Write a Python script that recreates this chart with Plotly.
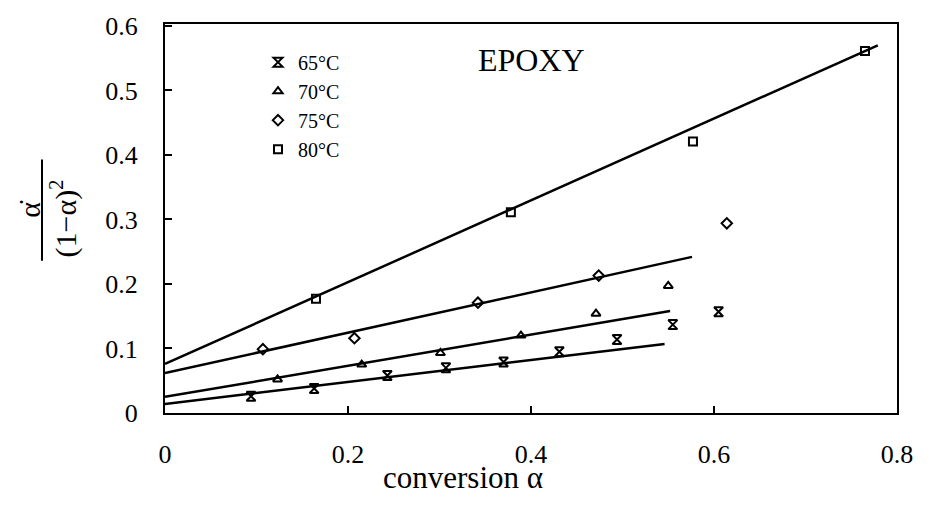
import plotly.graph_objects as go

# ---- data ----
temps = ["65°C", "70°C", "75°C", "80°C"]

x65 = [0.094, 0.163, 0.243, 0.307, 0.370, 0.431, 0.494, 0.555, 0.605]
y65 = [0.026, 0.038, 0.058, 0.070, 0.079, 0.095, 0.114, 0.137, 0.157]

x70 = [0.123, 0.215, 0.301, 0.389, 0.471, 0.550]
y70 = [0.052, 0.075, 0.093, 0.120, 0.154, 0.197]

x75 = [0.107, 0.207, 0.342, 0.474, 0.614]
y75 = [0.099, 0.116, 0.171, 0.213, 0.294]

x80 = [0.165, 0.378, 0.577, 0.765]
y80 = [0.177, 0.311, 0.421, 0.561]

# linear fit lines (start / end)
fit_x65 = [0.0, 0.546]
fit_y65 = [0.014, 0.107]
fit_x70 = [0.0, 0.552]
fit_y70 = [0.025, 0.158]
fit_x75 = [0.0, 0.576]
fit_y75 = [0.062, 0.242]
fit_x80 = [0.0, 0.779]
fit_y80 = [0.076, 0.570]

x_ticks = [0, 0.2, 0.4, 0.6, 0.8]
x_ticklabels = ["0", "0.2", "0.4", "0.6", "0.8"]
y_ticks = [0, 0.1, 0.2, 0.3, 0.4, 0.5, 0.6]
y_ticklabels = ["0", "0.1", "0.2", "0.3", "0.4", "0.5", "0.6"]

SERIF = "Times New Roman, Liberation Serif, serif"

series = [
    (x65, y65, fit_x65, fit_y65, "hourglass-open", 9),
    (x70, y70, fit_x70, fit_y70, "triangle-up-open", 8),
    (x75, y75, fit_x75, fit_y75, "diamond-open", 8),
    (x80, y80, fit_x80, fit_y80, "square-open", 8),
]

fig = go.Figure()
for (xs, ys, fx, fy, sym, sz), name in zip(series, temps):
    fig.add_trace(go.Scatter(x=fx, y=fy, mode="lines",
                             line=dict(color="black", width=2.5),
                             showlegend=False, hoverinfo="skip"))
for (xs, ys, fx, fy, sym, sz), name in zip(series, temps):
    fig.add_trace(go.Scatter(x=xs, y=ys, mode="markers", name=name,
                             marker=dict(symbol=sym, size=sz, color="black",
                                         line=dict(color="black", width=2))))

W, H = 932, 508
L, R, T, B = 165, 35, 17, 95
pw, ph = W - L - R, H - T - B

def px(xpix):
    return (xpix - L) / pw

def py(ypix):
    return (H - B - ypix) / ph

tickfont = dict(family=SERIF, size=26, color="black")

fig.update_layout(
    xaxis=dict(range=[0, 0.8], tickmode="array", tickvals=x_ticks,
               ticktext=x_ticklabels, ticklabelstandoff=17,
               showgrid=False, zeroline=False, showline=True, mirror=True,
               linecolor="black", linewidth=2, ticks="inside", ticklen=7,
               tickwidth=2, tickcolor="black", tickfont=tickfont),
    yaxis=dict(range=[0, 0.603], tickmode="array", tickvals=y_ticks,
               ticktext=y_ticklabels, ticklabelstandoff=20,
               showgrid=False, zeroline=False, showline=True, mirror=True,
               linecolor="black", linewidth=2, ticks="inside", ticklen=7,
               tickwidth=2, tickcolor="black", tickfont=tickfont),
)

annotations = [
    dict(text="EPOXY", x=px(531), y=py(54), xref="paper", yref="paper",
         showarrow=False, xanchor="center", yanchor="middle",
         font=dict(family=SERIF, size=32, color="black")),
    dict(text="conversion α", x=px(463), y=py(479), xref="paper", yref="paper",
         showarrow=False, xanchor="center", yanchor="middle",
         font=dict(family=SERIF, size=31, color="black")),
    dict(text="α̇", x=px(30), y=py(205), xref="paper", yref="paper",
         showarrow=False, xanchor="center", yanchor="middle", textangle=-90,
         font=dict(family=SERIF, size=30, color="black")),
    dict(text="(1−α)<sup>2</sup>", x=px(64), y=py(215), xref="paper", yref="paper",
         showarrow=False, xanchor="center", yanchor="middle", textangle=-90,
         font=dict(family=SERIF, size=30, color="black")),
]

shapes = [
    dict(type="line", xref="paper", yref="paper", x0=px(42), x1=px(42),
         y0=py(155), y1=py(258), line=dict(color="black", width=2)),
]

fig.update_layout(
    width=W, height=H,
    margin=dict(l=L, r=R, t=T, b=B, pad=0),
    paper_bgcolor="white", plot_bgcolor="white",
    font=dict(family=SERIF, size=24, color="black"),
    showlegend=True,
    legend=dict(x=px(258), y=py(36), xanchor="left", yanchor="top",
                bgcolor="rgba(0,0,0,0)", borderwidth=0,
                font=dict(family=SERIF, size=20, color="black"),
                itemwidth=30, tracegroupgap=0),
    annotations=annotations,
    shapes=shapes,
)

fig.write_html("out.html")
